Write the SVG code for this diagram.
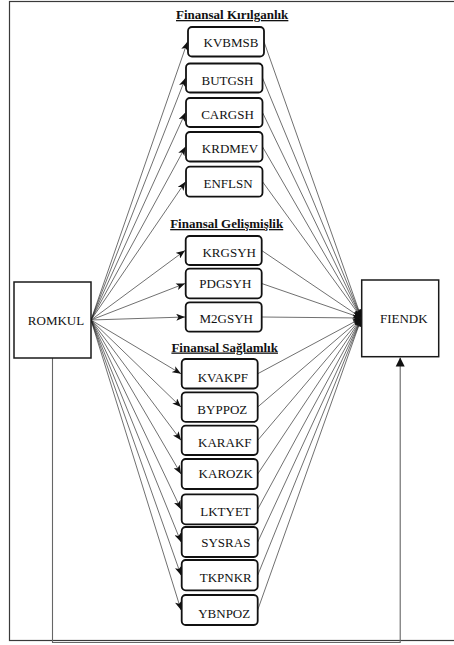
<svg xmlns="http://www.w3.org/2000/svg" width="454" height="645" viewBox="0 0 454 645">
<style>
.frame{fill:none;stroke:#3a3a3a;stroke-width:1.2}
.bigbox{fill:#fff;stroke:#1a1a1a;stroke-width:1.5}
.box{fill:#fff;stroke:#111;stroke-width:1.8}
.lbl{font-size:13px;fill:#111;text-anchor:middle}
.ttl{font-size:13px;font-weight:bold;fill:#111;text-anchor:middle;text-decoration:underline}
.e{fill:none;stroke:#222;stroke-width:0.65;marker-end:url(#ah)}
.loop{fill:none;stroke:#666;stroke-width:1.1;marker-end:url(#up)}
</style>
<defs>
<marker id="ah" viewBox="0 0 10 8" refX="10" refY="4" markerWidth="9" markerHeight="7" markerUnits="userSpaceOnUse" orient="auto">
<path d="M0,0 L10,4 L0,8 L2.5,4 Z" fill="#111"/>
</marker>
<marker id="up" viewBox="0 0 10 10" refX="10" refY="5" markerWidth="9" markerHeight="10" markerUnits="userSpaceOnUse" orient="auto">
<path d="M0,0 L10,5 L0,10 Z" fill="#111"/>
</marker>
</defs>
<rect class="frame" x="9.5" y="1.5" width="452" height="639"/>
<g id="connectors">
<path class="loop" d="M52.5,358 V642.5 H400.2 V357.5"/>
<line class="e" x1="91" y1="320" x2="187.5" y2="41.75"/>
<line class="e" x1="91" y1="320" x2="185.5" y2="78"/>
<line class="e" x1="91" y1="320" x2="185.5" y2="112.5"/>
<line class="e" x1="91" y1="320" x2="185.5" y2="146.75"/>
<line class="e" x1="91" y1="320" x2="185.5" y2="181.7"/>
<line class="e" x1="91" y1="320" x2="185" y2="250.5"/>
<line class="e" x1="91" y1="320" x2="185" y2="283.5"/>
<line class="e" x1="91" y1="320" x2="185" y2="317"/>
<line class="e" x1="91" y1="320" x2="181" y2="373.75"/>
<line class="e" x1="91" y1="320" x2="181" y2="407"/>
<line class="e" x1="91" y1="320" x2="181" y2="440.3"/>
<line class="e" x1="91" y1="320" x2="181" y2="474"/>
<line class="e" x1="91" y1="320" x2="181" y2="509.3"/>
<line class="e" x1="91" y1="320" x2="181" y2="542"/>
<line class="e" x1="91" y1="320" x2="181" y2="575.2"/>
<line class="e" x1="91" y1="320" x2="181" y2="610"/>
<line class="e" x1="264" y1="41.75" x2="361.5" y2="318"/>
<line class="e" x1="262.5" y1="78" x2="361.5" y2="318"/>
<line class="e" x1="262.5" y1="112.5" x2="361.5" y2="318"/>
<line class="e" x1="262.5" y1="146.75" x2="361.5" y2="318"/>
<line class="e" x1="262.5" y1="181.7" x2="361.5" y2="318"/>
<line class="e" x1="261.7" y1="250.5" x2="361.5" y2="318"/>
<line class="e" x1="261.7" y1="283.5" x2="361.5" y2="318"/>
<line class="e" x1="261.7" y1="317" x2="361.5" y2="318"/>
<line class="e" x1="257.7" y1="373.75" x2="361.5" y2="318"/>
<line class="e" x1="257.7" y1="407" x2="361.5" y2="318"/>
<line class="e" x1="257.7" y1="440.3" x2="361.5" y2="318"/>
<line class="e" x1="257.7" y1="474" x2="361.5" y2="318"/>
<line class="e" x1="257.7" y1="509.3" x2="361.5" y2="318"/>
<line class="e" x1="257.7" y1="542" x2="361.5" y2="318"/>
<line class="e" x1="257.7" y1="575.2" x2="361.5" y2="318"/>
<line class="e" x1="257.7" y1="610" x2="361.5" y2="318"/>
</g>
<g font-family="'Liberation Serif', 'Times New Roman', Times, serif">
<g id="titles">
<text class="ttl" x="232.2" y="19">Finansal Kırılganlık</text>
<text class="ttl" x="226.7" y="228">Finansal Gelişmişlik</text>
<text class="ttl" x="224.7" y="351.5">Finansal Sağlamlık</text>
</g>
<g id="ROMKUL"><rect class="bigbox" x="14" y="282" width="77" height="76"/><text class="lbl" x="56" y="324.5">ROMKUL</text></g>
<g id="FIENDK"><rect class="bigbox" x="361.7" y="280" width="77" height="76.7"/><text class="lbl" x="403.8" y="322.5">FIENDK</text></g>
<g id="KVBMSB"><rect class="box" x="188" y="27" width="76" height="29.5" rx="4"/><text class="lbl" x="231" y="47">KVBMSB</text></g>
<g id="BUTGSH"><rect class="box" x="186" y="63.5" width="76.5" height="29" rx="4"/><text class="lbl" x="227.5" y="84.5">BUTGSH</text></g>
<g id="CARGSH"><rect class="box" x="186" y="98" width="76.5" height="29" rx="4"/><text class="lbl" x="227.5" y="118.7">CARGSH</text></g>
<g id="KRDMEV"><rect class="box" x="186" y="132" width="76.5" height="29.5" rx="4"/><text class="lbl" x="230" y="153">KRDMEV</text></g>
<g id="ENFLSN"><rect class="box" x="186" y="166.7" width="76.5" height="30" rx="4"/><text class="lbl" x="228" y="187.5">ENFLSN</text></g>
<g id="KRGSYH"><rect class="box" x="185.7" y="236" width="76" height="29" rx="4"/><text class="lbl" x="229.2" y="257">KRGSYH</text></g>
<g id="PDGSYH"><rect class="box" x="185.7" y="268.7" width="76" height="29.6" rx="4"/><text class="lbl" x="225.3" y="288.3">PDGSYH</text></g>
<g id="M2GSYH"><rect class="box" x="185.7" y="302.3" width="76" height="29.4" rx="4"/><text class="lbl" x="226.2" y="322.5">M2GSYH</text></g>
<g id="KVAKPF"><rect class="box" x="181.7" y="359" width="76" height="29.5" rx="4"/><text class="lbl" x="222.8" y="381.7">KVAKPF</text></g>
<g id="BYPPOZ"><rect class="box" x="181.7" y="392.3" width="76" height="29.5" rx="4"/><text class="lbl" x="222.3" y="414.3">BYPPOZ</text></g>
<g id="KARAKF"><rect class="box" x="181.7" y="425.7" width="76" height="29.3" rx="4"/><text class="lbl" x="224.8" y="446.5">KARAKF</text></g>
<g id="KAROZK"><rect class="box" x="181.7" y="459" width="76" height="30" rx="4"/><text class="lbl" x="225.7" y="478.3">KAROZK</text></g>
<g id="LKTYET"><rect class="box" x="181.7" y="494.3" width="76" height="30" rx="4"/><text class="lbl" x="225.5" y="516">LKTYET</text></g>
<g id="SYSRAS"><rect class="box" x="181.7" y="527" width="76" height="30" rx="4"/><text class="lbl" x="225.8" y="546.7">SYSRAS</text></g>
<g id="TKPNKR"><rect class="box" x="181.7" y="560" width="76" height="30.3" rx="4"/><text class="lbl" x="225.8" y="581.7">TKPNKR</text></g>
<g id="YBNPOZ"><rect class="box" x="181.7" y="595" width="76" height="30" rx="4"/><text class="lbl" x="224.2" y="617.7">YBNPOZ</text></g>
</g>
</svg>
